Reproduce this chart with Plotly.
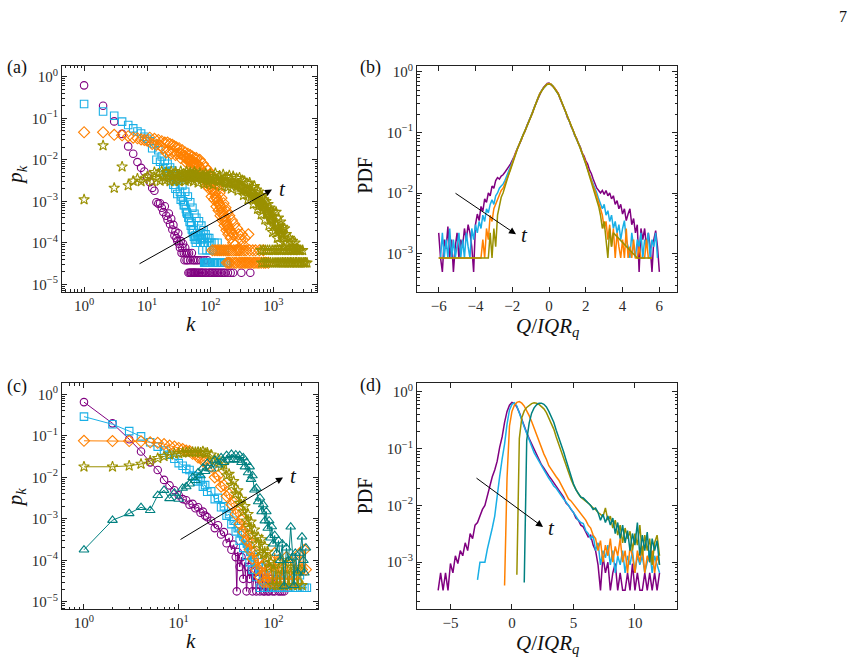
import plotly.graph_objects as go

W, H = 856, 663
FONT = "Liberation Serif"

C_PUR = "#800080"
C_BLU = "#19afe6"
C_ORA = "#ff8000"
C_OLI = "#9a9000"
C_TEA = "#008080"

# ======================= panel (a): p_k vs k (markers) =======================
ka_pur = [1,2,3,4,5,6,7,8,9,10,11,12,13,14,15,16,17,18,19,20,
          21,22,23,24,25,26,27,28,29,30,31,32,33,34,35,36,37,38,39,40,
          41,42,43,44,45,46,
          47,48,49,50,51,52,53,54,55,56,57,58,60,61,63,64,66,68,70,72,74,77,80,83,86,90,94,98,
          103,108,114,120,127,135,143,152,162,172,190,210,230,310,430]
pa_pur = [6.2e-1,2.0e-1,8.4e-2,4.2e-2,2.1e-2,1.4e-2,8.8e-3,6.4e-3,5.2e-3,3.8e-3,
          2.9e-3,2.1e-3,1.8e-3,9.5e-4,8.8e-4,9.0e-4,7.0e-4,5.5e-4,7.6e-4,4.5e-4,
          3.6e-4,5.1e-4,2.8e-4,3.8e-4,2.1e-4,2.7e-4,1.5e-4,1.9e-4,1.3e-4,1.1e-4,
          1.7e-4,9.5e-5,7.6e-5,1.1e-4,5.7e-5,7.6e-5,9.5e-5,5.7e-5,3.8e-5,7.6e-5,
          5.7e-5,3.8e-5,5.7e-5,3.8e-5,1.9e-5,5.7e-5,
          1.9e-5,3.8e-5,1.9e-5,1.9e-5,5.7e-5,1.9e-5,3.8e-5,1.9e-5,1.9e-5,3.8e-5,
          1.9e-5,1.9e-5,3.8e-5,1.9e-5,1.9e-5,3.8e-5,1.9e-5,1.9e-5,3.8e-5,1.9e-5,
          1.9e-5,1.9e-5,3.8e-5,1.9e-5,1.9e-5,3.8e-5,1.9e-5,1.9e-5,
          1.9e-5,1.9e-5,1.9e-5,1.9e-5,1.9e-5,1.9e-5,1.9e-5,1.9e-5,1.9e-5,1.9e-5,
          1.9e-5,1.9e-5,1.9e-5,1.9e-5,1.9e-5]

ka_blu = [1,2,3,4,5,6,7,8,9,10,11,12,13,14,15,16,17,18,19,20,
          21,22,23,24,25,26,27,28,29,30,
          32,34,36,38,40,42,44,46,48,50,52,54,56,58,60,
          63,66,69,72,75,78,81,84,87,90,93,96,99,
          104,110,116,122,130,140,150,160,170,
          80,83,86,89,92,95,98,101,107,113,119,126,133,145,155,165,175,183,190,
          33,35,37,39,41,43,45,47,49,51,53,55,57,59,
          62,65,68,71,74,77,79,82]
pa_blu = [2.2e-1,1.45e-1,1.15e-1,8.3e-2,6.9e-2,5.7e-2,4.8e-2,4.3e-2,3.6e-2,3.2e-2,
          2.8e-2,1.9e-2,2.4e-2,1.0e-2,1.7e-2,9.0e-3,1.2e-2,6.5e-3,9.5e-3,5.0e-3,
          8.0e-3,4.0e-3,6.5e-3,3.2e-3,5.5e-3,2.5e-3,4.4e-3,2.0e-3,3.4e-3,1.5e-3,
          3.2e-3,1.1e-3,2.4e-3,8.0e-4,1.7e-3,5.5e-4,1.3e-3,4.0e-4,9.5e-4,3.0e-4,
          7.0e-4,2.0e-4,5.0e-4,1.5e-4,4.0e-4,
          1.2e-4,3.3e-4,1.0e-4,2.6e-4,6.6e-5,2.0e-4,1.0e-4,1.6e-4,6.6e-5,1.3e-4,
          1.0e-4,1.3e-4,6.6e-5,
          1.0e-4,6.6e-5,1.0e-4,6.6e-5,1.0e-4,6.6e-5,6.6e-5,6.6e-5,6.6e-5,
          3.3e-5,3.3e-5,3.3e-5,3.3e-5,3.3e-5,3.3e-5,3.3e-5,3.3e-5,3.3e-5,3.3e-5,
          3.3e-5,3.3e-5,3.3e-5,3.3e-5,3.3e-5,3.3e-5,3.3e-5,3.3e-5,3.3e-5,
          1.7e-3,1.3e-3,1.0e-3,8.0e-4,6.5e-4,5.0e-4,4.0e-4,3.2e-4,2.6e-4,2.1e-4,
          1.7e-4,1.4e-4,1.2e-4,1.0e-4,
          1.7e-4,1.5e-4,1.3e-4,1.5e-4,1.2e-4,1.0e-4,1.3e-4,1.0e-4]

ka_ora = [1,2,3,4,5,6,7,8,9,10,11,12,13,14,15,16,17,18,19,20,
          21,22,23,24,25,26,27,28,29,30,
          32,34,36,38,40,42,44,46,48,50,52,54,56,58,60,
          64,68,72,76,80,84,88,92,96,100,
          105,110,115,120,125,130,135,140,145,150,
          156,162,168,174,180,186,193,200,
          210,220,230,240,250,265,280,300,315,330,350,400,
          108,118,128,138,148,160,172,185,198,215,235,255,275,290,310,340,370,420,470,520,600,690,
          183,195,205,225,245,260,285,305,325,345,365,385,410,440,480,510,550,590,640,700,750,830,
          33,35,37,39,41,43,45,47,49,51,53,55,57,59,
          62,66,70,74,78,82,86,90,94,98,
          102,107,112,117,122,127,132,137,142,147,
          153,159,165,171,177,184,190,197,204,217,227]
pa_ora = [4.6e-2,4.6e-2,4.0e-2,3.9e-2,3.7e-2,3.4e-2,3.3e-2,3.1e-2,3.0e-2,2.9e-2,
          3.4e-2,2.4e-2,3.2e-2,2.3e-2,3.0e-2,2.2e-2,2.8e-2,1.9e-2,2.6e-2,1.5e-2,
          2.6e-2,1.7e-2,2.4e-2,1.4e-2,2.3e-2,1.6e-2,2.1e-2,1.3e-2,2.0e-2,1.4e-2,
          1.9e-2,1.1e-2,1.7e-2,1.2e-2,1.5e-2,8.5e-3,1.4e-2,9.0e-3,1.3e-2,7.0e-3,
          1.2e-2,8.0e-3,1.1e-2,6.0e-3,1.1e-2,
          5.5e-3,1.0e-2,4.2e-3,8.0e-3,3.4e-3,6.5e-3,2.4e-3,5.5e-3,2.0e-3,4.5e-3,
          1.3e-3,3.5e-3,1.1e-3,2.6e-3,7.5e-4,2.0e-3,6.0e-4,1.6e-3,4.5e-4,1.2e-3,
          3.5e-4,9.0e-4,2.6e-4,7.0e-4,2.0e-4,5.5e-4,1.6e-4,4.5e-4,
          1.3e-4,3.5e-4,1.0e-4,2.8e-4,9.0e-5,2.2e-4,1.6e-4,1.2e-4,1.6e-4,9.0e-5,1.3e-4,1.6e-4,
          6.6e-5,6.6e-5,6.6e-5,6.6e-5,6.6e-5,6.6e-5,6.6e-5,6.6e-5,6.6e-5,6.6e-5,6.6e-5,
          6.6e-5,6.6e-5,6.6e-5,6.6e-5,6.6e-5,6.6e-5,6.6e-5,6.6e-5,6.6e-5,6.6e-5,6.6e-5,
          3.3e-5,3.3e-5,3.3e-5,3.3e-5,3.3e-5,3.3e-5,3.3e-5,3.3e-5,3.3e-5,3.3e-5,3.3e-5,
          3.3e-5,3.3e-5,3.3e-5,3.3e-5,3.3e-5,3.3e-5,3.3e-5,3.3e-5,3.3e-5,3.3e-5,3.3e-5,
          1.4e-2,1.4e-2,1.3e-2,1.2e-2,1.1e-2,1.1e-2,1.0e-2,1.05e-2,9.5e-3,9.0e-3,
          9.5e-3,8.5e-3,8.0e-3,8.0e-3,
          8.0e-3,7.0e-3,6.0e-3,5.5e-3,4.8e-3,4.2e-3,3.8e-3,3.4e-3,3.0e-3,2.6e-3,
          2.4e-3,2.0e-3,1.8e-3,1.6e-3,1.3e-3,1.15e-3,1.0e-3,9.0e-4,8.0e-4,7.0e-4,
          6.0e-4,5.0e-4,4.4e-4,3.8e-4,3.2e-4,2.8e-4,2.5e-4,2.2e-4,2.0e-4,1.8e-4,1.6e-4]

ka_oli = [1,2,3,4,5,6,7,8,9,10,11,12,13,14,15,16,17,18,19,20,
          21,22,23,24,25,26,27,28,29,30,
          32,34,36,38,40,42,44,46,48,50,52,54,56,58,60,
          64,68,72,76,80,84,88,92,96,100,
          110,120,130,140,150,160,170,180,190,200,
          215,230,245,260,275,290,305,320,335,350,365,380,395,
          420,440,460,480,500,520,540,560,580,600,620,640,660,680,700,
          730,760,790,820,850,880,910,940,970,1000,
          1050,1100,1150,1200,1250,1300,1350,1400,1450,1500,
          1600,1700,1800,1900,2000,2100,2200,2350,2450,2600,
          1380,
          630,690,745,805,870,955,1025,1085,1160,1240,1320,1420,1550,1650,1750,1850,1950,2050,
          2150,2300,2500,2700,2900,
          650,710,770,830,900,980,1060,1140,1220,1310,1390,1470,1560,1660,1760,1860,1960,2080,
          2220,2320,2470,2620,2750,2950,3050,3200,3400,
          33,35,37,39,41,43,45,47,49,51,53,55,57,59,
          66,70,74,78,82,86,90,94,98,
          115,125,135,145,155,165,175,185,195,
          222,237,252,267,282,297,312,327,342,357,372,387,
          431,451,471,491,511,531,551,571,591,611,631,651,671,691,
          747,777,807,837,867,897,927,957,987,
          1075,1125,1175,1225,1275,1325,1375,1425,1475]
pa_oli = [1.1e-3,2.2e-2,2.1e-3,6.8e-3,2.4e-3,3.1e-3,3.5e-3,3.0e-3,3.4e-3,3.9e-3,
          4.2e-3,3.0e-3,5.0e-3,3.6e-3,4.6e-3,3.1e-3,5.3e-3,3.9e-3,3.2e-3,5.0e-3,
          3.5e-3,4.4e-3,3.0e-3,5.2e-3,3.8e-3,4.5e-3,3.1e-3,5.1e-3,3.4e-3,4.3e-3,
          3.0e-3,5.3e-3,3.6e-3,4.6e-3,3.1e-3,5.2e-3,3.9e-3,3.2e-3,5.0e-3,3.5e-3,
          4.4e-3,3.0e-3,5.1e-3,3.8e-3,4.4e-3,
          2.8e-3,4.8e-3,3.3e-3,4.2e-3,2.6e-3,4.6e-3,3.0e-3,4.0e-3,2.7e-3,4.5e-3,
          2.5e-3,4.7e-3,3.2e-3,4.1e-3,2.3e-3,4.4e-3,2.8e-3,3.8e-3,2.2e-3,4.2e-3,
          2.0e-3,4.0e-3,2.6e-3,3.6e-3,1.8e-3,3.7e-3,2.2e-3,3.2e-3,1.4e-3,3.0e-3,
          1.8e-3,2.7e-3,1.1e-3,
          2.8e-3,1.3e-3,2.2e-3,8.5e-4,2.3e-3,1.1e-3,1.9e-3,6.5e-4,1.7e-3,8.0e-4,
          1.4e-3,4.8e-4,1.3e-3,6.0e-4,1.1e-3,
          3.6e-4,1.0e-3,5.0e-4,8.5e-4,2.6e-4,7.0e-4,3.6e-4,5.8e-4,1.8e-4,5.5e-4,
          2.0e-4,5.5e-4,1.3e-4,4.0e-4,1.0e-4,3.2e-4,1.6e-4,2.4e-4,8.0e-5,2.2e-4,
          1.6e-4,8.5e-5,1.3e-4,1.0e-4,1.1e-4,6.6e-5,1.0e-4,7.5e-5,7.0e-5,6.6e-5,
          2.1e-4,
          6.6e-5,6.6e-5,6.6e-5,6.6e-5,6.6e-5,6.6e-5,6.6e-5,6.6e-5,6.6e-5,6.6e-5,
          6.6e-5,6.6e-5,6.6e-5,6.6e-5,6.6e-5,6.6e-5,6.6e-5,6.6e-5,6.6e-5,6.6e-5,
          6.6e-5,6.6e-5,6.6e-5,
          3.3e-5,3.3e-5,3.3e-5,3.3e-5,3.3e-5,3.3e-5,3.3e-5,3.3e-5,3.3e-5,3.3e-5,
          3.3e-5,3.3e-5,3.3e-5,3.3e-5,3.3e-5,3.3e-5,3.3e-5,3.3e-5,3.3e-5,3.3e-5,
          3.3e-5,3.3e-5,3.3e-5,3.3e-5,3.3e-5,3.3e-5,3.3e-5,
          4.0e-3,4.1e-3,3.9e-3,4.2e-3,4.0e-3,4.1e-3,3.9e-3,4.0e-3,4.2e-3,3.9e-3,
          4.0e-3,3.9e-3,4.1e-3,4.0e-3,
          3.8e-3,3.7e-3,3.8e-3,3.6e-3,3.7e-3,3.5e-3,3.6e-3,3.5e-3,3.4e-3,
          3.4e-3,3.3e-3,3.2e-3,3.2e-3,3.1e-3,3.0e-3,2.9e-3,2.9e-3,2.8e-3,
          2.7e-3,2.7e-3,2.6e-3,2.5e-3,2.4e-3,2.3e-3,2.2e-3,2.1e-3,2.0e-3,1.9e-3,1.8e-3,1.7e-3,
          1.7e-3,1.6e-3,1.5e-3,1.4e-3,1.3e-3,1.2e-3,1.15e-3,1.1e-3,1.0e-3,9.5e-4,
          9.0e-4,8.5e-4,8.0e-4,7.5e-4,
          6.5e-4,6.0e-4,5.5e-4,5.0e-4,4.5e-4,4.2e-4,3.8e-4,3.5e-4,3.2e-4,
          2.9e-4,2.6e-4,2.3e-4,2.1e-4,1.9e-4,1.7e-4,1.6e-4,1.4e-4,1.3e-4]

# ======================= panel (b): PDF of Q/IQR (lines) =======================
xb_start, xb_step = -6.0, 0.1
pb_pur = [2.2e-3,8.5e-4,5.0e-4,1.7e-3,1.2e-3,2.8e-3,8.5e-4,1.7e-3,5.0e-4,1.3e-3,
          2.2e-3,8.5e-4,1.7e-3,1.3e-3,2.6e-3,1.7e-3,3.0e-3,2.2e-3,1.3e-3,5.0e-4,
          3.0e-3,4.5e-3,3.5e-3,6.0e-3,5.0e-3,8.0e-3,7.0e-3,1.0e-2,9.0e-3,1.3e-2,
          1.2e-2,1.6e-2,1.8e-2,1.7e-2,1.9e-2,2.0e-2,2.2e-2,2.5e-2,2.7e-2,3.0e-2,
          3.4e-2,4.0e-2,4.8e-2,5.5e-2,6.7e-2,7.6e-2,9.3e-2,1.05e-1,1.3e-1,1.5e-1,
          1.8e-1,2.1e-1,2.6e-1,3.1e-1,3.7e-1,4.4e-1,4.9e-1,5.5e-1,5.9e-1,6.4e-1,
          6.5e-1,
          6.2e-1,5.8e-1,5.4e-1,4.8e-1,4.4e-1,3.6e-1,3.1e-1,2.5e-1,2.2e-1,1.75e-1,
          1.55e-1,1.25e-1,1.1e-1,8.8e-2,8.0e-2,6.5e-2,5.8e-2,4.6e-2,4.1e-2,3.4e-2,
          3.0e-2,2.4e-2,2.1e-2,1.7e-2,1.4e-2,1.2e-2,1.1e-2,1.0e-2,1.1e-2,9.5e-3,
          1.1e-2,9.0e-3,1.0e-2,8.0e-3,9.0e-3,6.5e-3,7.5e-3,5.5e-3,6.5e-3,4.5e-3,
          5.5e-3,3.5e-3,4.5e-3,5.5e-3,3.0e-3,3.8e-3,2.2e-3,3.0e-3,5.0e-4,2.6e-3,
          1.7e-3,2.6e-3,1.3e-3,2.2e-3,1.3e-3,5.0e-4,1.7e-3,2.4e-3,1.3e-3,5.0e-4]
pb_blu = [None,8.5e-4,2.2e-3,8.5e-4,1.7e-3,8.5e-4,2.6e-3,8.5e-4,1.7e-3,8.5e-4,
          1.3e-3,2.2e-3,8.5e-4,1.7e-3,8.5e-4,2.2e-3,1.3e-3,8.5e-4,2.6e-3,1.7e-3,
          3.0e-3,2.2e-3,3.4e-3,2.6e-3,4.3e-3,3.4e-3,5.5e-3,4.7e-3,6.5e-3,7.7e-3,
          6.5e-3,9.0e-3,1.0e-2,1.2e-2,1.3e-2,1.4e-2,1.6e-2,1.9e-2,2.2e-2,2.6e-2,
          3.1e-2,3.9e-2,4.6e-2,5.7e-2,6.5e-2,7.9e-2,9.0e-2,1.08e-1,1.27e-1,1.52e-1,
          1.76e-1,2.15e-1,2.55e-1,3.1e-1,3.7e-1,4.4e-1,4.9e-1,5.4e-1,6.0e-1,6.3e-1,
          6.4e-1,
          6.3e-1,5.9e-1,5.3e-1,4.9e-1,4.3e-1,3.7e-1,3.1e-1,2.6e-1,2.1e-1,1.8e-1,
          1.5e-1,1.3e-1,1.06e-1,9.2e-2,7.6e-2,6.7e-2,5.5e-2,4.8e-2,3.8e-2,3.2e-2,
          2.5e-2,2.0e-2,1.7e-2,1.4e-2,1.2e-2,1.0e-2,8.0e-3,6.5e-3,5.5e-3,6.5e-3,
          4.3e-3,5.1e-3,3.4e-3,4.3e-3,2.6e-3,3.4e-3,2.2e-3,3.0e-3,1.7e-3,2.6e-3,
          3.5e-3,1.7e-3,1.3e-3,8.5e-4,2.2e-3,1.3e-3,8.5e-4,1.7e-3,1.3e-3,2.2e-3,
          8.5e-4,1.7e-3,1.3e-3,2.2e-3,8.5e-4,1.7e-3,1.3e-3,2.2e-3,8.5e-4,None]
pb_ora = [8.5e-4,8.5e-4,8.5e-4,8.5e-4,8.5e-4,8.5e-4,8.5e-4,8.5e-4,8.5e-4,8.5e-4,
          8.5e-4,8.5e-4,8.5e-4,8.5e-4,8.5e-4,8.5e-4,8.5e-4,8.5e-4,8.5e-4,8.5e-4,
          8.5e-4,8.5e-4,8.5e-4,8.5e-4,1.7e-3,8.5e-4,2.6e-3,1.7e-3,4.3e-3,3.4e-3,
          5.5e-3,6.5e-3,8.0e-3,9.5e-3,1.1e-2,1.2e-2,1.4e-2,1.7e-2,2.0e-2,2.5e-2,
          3.2e-2,3.8e-2,4.7e-2,5.6e-2,6.6e-2,7.8e-2,9.1e-2,1.07e-1,1.29e-1,1.5e-1,
          1.78e-1,2.1e-1,2.6e-1,3.1e-1,3.7e-1,4.4e-1,4.9e-1,5.4e-1,5.9e-1,6.3e-1,
          6.4e-1,
          6.3e-1,5.9e-1,5.4e-1,4.9e-1,4.4e-1,3.7e-1,3.1e-1,2.6e-1,2.1e-1,1.78e-1,
          1.5e-1,1.29e-1,1.07e-1,9.1e-2,7.8e-2,6.6e-2,5.6e-2,4.7e-2,3.9e-2,3.2e-2,
          2.5e-2,2.0e-2,1.5e-2,1.3e-2,1.1e-2,9.0e-3,7.0e-3,5.5e-3,4.3e-3,2.6e-3,
          3.4e-3,1.7e-3,3.0e-3,1.3e-3,2.6e-3,8.5e-4,2.2e-3,1.3e-3,8.5e-4,1.7e-3,
          8.5e-4,2.6e-3,8.5e-4,1.3e-3,8.5e-4,1.7e-3,8.5e-4,8.5e-4,1.3e-3,8.5e-4,
          8.5e-4,8.5e-4,1.7e-3,8.5e-4,8.5e-4,8.5e-4,None,None,None,None]
pb_oli = [8.5e-4,8.5e-4,8.5e-4,8.5e-4,8.5e-4,8.5e-4,8.5e-4,8.5e-4,8.5e-4,8.5e-4,
          8.5e-4,8.5e-4,8.5e-4,8.5e-4,8.5e-4,8.5e-4,8.5e-4,8.5e-4,8.5e-4,8.5e-4,
          8.5e-4,8.5e-4,8.5e-4,8.5e-4,8.5e-4,8.5e-4,8.5e-4,8.5e-4,2.2e-3,8.5e-4,
          2.6e-3,1.3e-3,4.3e-3,6.5e-3,8.5e-3,1.0e-2,1.3e-2,1.6e-2,2.0e-2,2.4e-2,
          3.0e-2,3.8e-2,4.6e-2,5.5e-2,6.6e-2,7.7e-2,9.0e-2,1.07e-1,1.28e-1,1.5e-1,
          1.77e-1,2.1e-1,2.6e-1,3.1e-1,3.7e-1,4.3e-1,4.9e-1,5.4e-1,5.8e-1,6.2e-1,
          6.3e-1,
          6.2e-1,5.8e-1,5.3e-1,4.8e-1,4.3e-1,3.7e-1,3.1e-1,2.6e-1,2.1e-1,1.77e-1,
          1.5e-1,1.28e-1,1.06e-1,9.0e-2,7.7e-2,6.5e-2,5.5e-2,4.6e-2,3.8e-2,3.0e-2,
          2.4e-2,1.9e-2,1.5e-2,1.2e-2,1.0e-2,8.0e-3,6.0e-3,4.3e-3,2.6e-3,3.4e-3,
          1.7e-3,8.5e-4,2.6e-3,1.3e-3,2.2e-3,None,None,None,None,None,
          None,None,None,None,None,None,None,8.5e-4,8.5e-4,8.5e-4,
          8.5e-4,8.5e-4,8.5e-4,8.5e-4,8.5e-4,8.5e-4,None,None,None,None]

# ======================= panel (c): p_k vs k (markers + lines) =======================
kc_pur = [1,2,3,4,5,6,7,8,9,10,11,12,13,14,15,16,17,18,19,20,
          22,24,26,28,30,32,34,36,38,40,41,42,44,46,48,50,52,54,56,58,60,
          63,66,69,72,75,78,81,84,87,90,94,98,103,108,113,118,124,130]
pc_pur = [6.5e-1,2.0e-1,8.3e-2,4.2e-2,2.3e-2,1.5e-2,8.7e-3,6.4e-3,4.9e-3,3.7e-3,
          3.0e-3,2.8e-3,2.2e-3,2.3e-3,1.8e-3,1.9e-3,1.4e-3,1.5e-3,1.2e-3,1.1e-3,
          9.0e-4,6.0e-4,7.0e-4,4.2e-4,4.8e-4,2.6e-4,3.5e-4,1.8e-4,2.4e-4,1.2e-4,1.8e-5,
          1.6e-4,7.0e-5,1.2e-4,3.6e-5,9.0e-5,1.8e-5,7.0e-5,3.6e-5,5.4e-5,1.8e-5,
          5.4e-5,1.8e-5,3.6e-5,1.8e-5,5.4e-5,1.8e-5,1.8e-5,3.6e-5,1.8e-5,1.8e-5,
          3.6e-5,1.8e-5,1.8e-5,3.6e-5,1.8e-5,1.8e-5,1.8e-5,1.8e-5]

kc_blu = [1,2,3,4,5,6,7,8,9,10,11,12,13,14,15,16,17,18,19,20,
          22,24,26,28,30,32,34,36,38,40,42,44,46,48,50,52,54,56,58,60,
          63,66,69,72,75,78,81,84,87,90,
          94,98,103,108,113,118,124,130,137,144,152,160,170,180,190,200,212,225]
pc_blu = [2.9e-1,1.9e-1,1.3e-1,9.7e-2,7.0e-2,5.5e-2,4.4e-2,3.5e-2,2.8e-2,2.2e-2,
          1.9e-2,1.6e-2,1.5e-2,1.1e-2,1.05e-2,8.0e-3,8.5e-3,6.0e-3,6.5e-3,4.5e-3,
          4.6e-3,3.0e-3,3.2e-3,1.9e-3,2.0e-3,1.2e-3,1.3e-3,7.5e-4,9.0e-4,5.0e-4,
          6.0e-4,3.0e-4,4.5e-4,2.0e-4,3.2e-4,1.3e-4,2.3e-4,9.0e-5,1.6e-4,6.0e-5,
          1.2e-4,4.0e-5,9.0e-5,2.2e-5,7.0e-5,4.4e-5,2.2e-5,6.6e-5,2.2e-5,4.4e-5,
          2.2e-5,4.4e-5,2.2e-5,2.2e-5,4.4e-5,2.2e-5,2.2e-5,4.4e-5,2.2e-5,2.2e-5,
          4.4e-5,2.2e-5,2.2e-5,2.2e-5,4.4e-5,2.2e-5,2.2e-5,2.2e-5]

kc_ora = [1,2,3,4,5,6,7,8,9,10,11,12,13,14,15,16,17,18,19,20,
          22,24,26,28,30,32,34,36,38,40,42,44,46,48,50,52,54,56,58,60,
          63,66,69,72,75,78,81,84,87,90,
          94,98,103,108,113,118,124,130,137,144,152,160,170,180,190,200,212,220]
pc_ora = [7.6e-2,7.5e-2,7.5e-2,7.4e-2,7.0e-2,6.8e-2,6.3e-2,5.8e-2,5.5e-2,5.1e-2,
          4.8e-2,4.4e-2,4.3e-2,3.7e-2,3.6e-2,3.0e-2,3.0e-2,2.5e-2,2.5e-2,2.0e-2,
          1.8e-2,1.0e-2,1.1e-2,6.0e-3,6.5e-3,3.5e-3,4.0e-3,2.2e-3,2.5e-3,1.3e-3,
          1.5e-3,7.5e-4,9.5e-4,4.8e-4,6.0e-4,3.0e-4,4.0e-4,1.8e-4,2.6e-4,1.1e-4,
          1.6e-4,6.0e-5,1.1e-4,4.0e-5,7.0e-5,3.0e-5,8.0e-5,3.0e-5,6.0e-5,3.0e-5,
          8.0e-5,3.0e-5,1.5e-4,3.0e-5,9.0e-5,3.0e-5,6.0e-5,3.0e-5,1.2e-4,3.0e-5,
          6.0e-5,3.0e-5,9.0e-5,3.0e-5,1.5e-4,6.0e-5,1.8e-4,6.0e-5]

kc_oli = [1,2,3,4,5,6,7,8,9,10,11,12,13,14,15,16,17,18,19,20,
          22,24,26,28,30,32,34,36,38,40,42,44,46,48,50,52,54,56,58,60,
          63,66,69,72,75,78,81,84,87,90,
          94,98,103,108,113,118,124,130,137,144,152,160,170,180,190,200]
pc_oli = [1.8e-2,1.8e-2,1.9e-2,2.1e-2,2.5e-2,2.9e-2,3.2e-2,3.5e-2,3.7e-2,3.8e-2,
          3.9e-2,4.0e-2,4.0e-2,4.1e-2,4.0e-2,4.1e-2,3.9e-2,4.2e-2,3.8e-2,3.9e-2,
          3.5e-2,2.6e-2,2.8e-2,1.8e-2,2.0e-2,1.1e-2,1.2e-2,6.5e-3,8.0e-3,4.0e-3,
          4.8e-3,2.4e-3,3.0e-3,1.5e-3,2.0e-3,9.0e-4,1.3e-3,6.0e-4,8.5e-4,4.0e-4,
          5.5e-4,2.5e-4,3.6e-4,1.6e-4,3.2e-4,1.4e-4,2.2e-4,1.1e-4,1.6e-4,7.0e-5,
          9.0e-5,2.5e-5,8.0e-5,2.5e-5,6.0e-5,2.5e-5,1.0e-4,2.5e-5,6.0e-5,2.5e-5,
          9.0e-5,2.5e-5,6.0e-5,2.5e-5,6.0e-5,2.5e-5]

kc_tea = [1,2,3,4,5,6,7,8,9,10,11,12,13,14,15,16,17,18,19,20,
          22,24,26,28,30,32,34,36,38,40,42,44,46,48,50,52,54,56,58,60,
          63,66,69,72,75,78,81,84,87,90,93,96,99,
          103,108,113,118,124,130,137,144,152,160,165,170,180,190,200,207,212,220]
pc_tea = [1.8e-4,9.3e-4,1.35e-3,1.9e-3,1.6e-3,3.7e-3,4.9e-3,3.1e-3,4.2e-3,3.0e-3,
          5.5e-3,6.0e-3,7.0e-3,1.0e-2,8.5e-3,1.3e-2,1.1e-2,1.7e-2,1.4e-2,2.2e-2,
          1.6e-2,2.6e-2,2.0e-2,3.0e-2,2.3e-2,3.4e-2,2.6e-2,3.6e-2,2.7e-2,3.5e-2,
          2.6e-2,3.4e-2,2.3e-2,3.0e-2,1.8e-2,2.3e-2,1.3e-2,1.8e-2,9.0e-3,1.1e-2,
          5.0e-3,5.5e-3,2.6e-3,3.2e-3,1.5e-3,2.2e-3,9.0e-4,1.5e-3,6.0e-4,9.0e-4,
          3.5e-4,6.5e-4,2.5e-4,
          4.0e-4,1.5e-4,3.0e-4,1.0e-4,2.5e-4,2.4e-5,2.0e-4,1.0e-4,6.4e-4,1.2e-4,
          2.5e-5,1.5e-4,5.0e-5,1.5e-4,3.7e-4,1.0e-4,5.0e-5,2.0e-4]

# ======================= panel (d): PDF of Q/IQR (lines) =======================
xd_step = 0.2
xd_pur_start = -6.0
pd_pur = [3.2e-4,6.5e-4,3.2e-4,6.5e-4,3.2e-4,9.5e-4,6.5e-4,1.3e-3,9.5e-4,1.6e-3,
          1.3e-3,2.2e-3,1.6e-3,3.2e-3,2.6e-3,4.5e-3,5.0e-3,6.5e-3,8.5e-3,1.0e-2,
          1.5e-2,2.2e-2,3.2e-2,4.2e-2,6.0e-2,1.05e-1,1.6e-1,2.9e-1,4.5e-1,5.8e-1,
          6.5e-1,6.2e-1,5.4e-1,4.3e-1,3.2e-1,2.5e-1,1.9e-1,1.5e-1,1.2e-1,9.5e-2,
          8.0e-2,6.5e-2,5.2e-2,4.5e-2,3.8e-2,3.3e-2,2.9e-2,2.5e-2,2.2e-2,1.8e-2,
          1.6e-2,1.4e-2,1.1e-2,1.0e-2,8.5e-3,7.5e-3,6.0e-3,5.5e-3,4.5e-3,4.2e-3,
          3.4e-3,2.8e-3,3.0e-3,2.0e-3,1.6e-3,9.0e-4,3.2e-4,1.3e-3,6.5e-4,1.0e-3,
          3.2e-4,6.5e-4,9.5e-4,3.2e-4,6.5e-4,3.2e-4,3.2e-4,6.5e-4,3.2e-4,9.5e-4,
          3.2e-4,6.5e-4,3.2e-4,3.2e-4,6.5e-4,3.2e-4,6.5e-4,3.2e-4,6.5e-4,3.2e-4,
          6.5e-4]
xd_blu_start = -2.8
pd_blu = [4.9e-4,1.0e-3,1.0e-3,1.0e-3,1.7e-3,2.5e-3,4.0e-3,6.5e-3,1.3e-2,3.2e-2,
          6.5e-2,1.2e-1,2.7e-1,4.8e-1,6.0e-1,6.4e-1,5.6e-1,4.4e-1,3.2e-1,2.4e-1,
          1.8e-1,1.4e-1,1.1e-1,8.5e-2,7.0e-2,5.8e-2,5.0e-2,4.2e-2,3.5e-2,3.0e-2,
          2.6e-2,2.2e-2,2.0e-2,1.7e-2,1.5e-2,1.3e-2,1.15e-2,1.0e-2,9.0e-3,7.5e-3,
          6.5e-3,5.5e-3,5.0e-3,4.8e-3,3.6e-3,3.2e-3,2.6e-3,3.0e-3,1.6e-3,2.2e-3,
          9.0e-4,1.6e-3,1.2e-3,2.0e-3,9.0e-4,1.6e-3,6.5e-4,1.3e-3,9.0e-4,1.6e-3,
          6.5e-4,1.3e-3,9.0e-4,1.6e-3,6.5e-4,1.3e-3,9.0e-4,1.3e-3,6.5e-4,1.0e-3,
          1.6e-3,6.5e-4,1.3e-3,9.0e-4,6.5e-4]
xd_ora_start = -0.6
pd_ora = [3.9e-4,3.0e-2,2.5e-1,4.5e-1,5.8e-1,6.5e-1,6.7e-1,6.3e-1,5.6e-1,4.7e-1,
          3.8e-1,3.0e-1,2.3e-1,1.7e-1,1.3e-1,1.0e-1,8.0e-2,6.5e-2,5.0e-2,4.3e-2,
          3.6e-2,3.2e-2,2.8e-2,2.3e-2,2.0e-2,1.6e-2,1.3e-2,1.2e-2,1.05e-2,9.5e-3,
          8.0e-3,7.0e-3,6.3e-3,5.5e-3,4.5e-3,4.0e-3,3.0e-3,2.6e-3,1.6e-3,2.4e-3,
          1.0e-3,2.0e-3,1.3e-3,2.6e-3,1.0e-3,1.9e-3,1.3e-3,2.6e-3,1.0e-3,1.6e-3,
          6.5e-4,1.9e-3,1.3e-3,6.5e-4,1.6e-3,1.0e-3,1.9e-3,6.5e-4,1.3e-3,1.0e-3,
          1.6e-3,6.5e-4,1.3e-3,9.0e-4]
xd_oli_start = 0.4
pd_oli = [6.0e-4,1.5e-1,3.5e-1,4.6e-1,5.3e-1,5.8e-1,6.2e-1,6.4e-1,6.3e-1,6.0e-1,
          5.5e-1,5.0e-1,4.3e-1,3.4e-1,2.8e-1,2.2e-1,1.6e-1,1.2e-1,9.0e-2,6.8e-2,
          5.0e-2,3.7e-2,2.9e-2,2.3e-2,1.9e-2,1.6e-2,1.4e-2,1.3e-2,1.2e-2,1.1e-2,
          1.0e-2,9.0e-3,8.5e-3,7.5e-3,7.0e-3,6.3e-3,9.0e-3,5.5e-3,6.5e-3,4.0e-3,
          5.5e-3,3.0e-3,4.5e-3,2.2e-3,4.0e-3,2.6e-3,3.5e-3,1.6e-3,3.2e-3,2.0e-3,
          4.5e-3,1.3e-3,3.0e-3,1.6e-3,2.6e-3,9.0e-4,2.2e-3,3.0e-3,1.3e-3]
xd_tea_start = 1.0
pd_tea = [4.4e-4,1.4e-1,2.8e-1,4.2e-1,5.2e-1,5.9e-1,6.3e-1,6.3e-1,6.0e-1,5.4e-1,
          4.5e-1,3.7e-1,2.9e-1,2.1e-1,1.6e-1,1.2e-1,8.8e-2,6.3e-2,4.4e-2,3.2e-2,
          2.4e-2,1.9e-2,1.6e-2,1.4e-2,1.35e-2,1.2e-2,1.1e-2,1.0e-2,8.5e-3,9.0e-3,
          7.5e-3,5.5e-3,7.0e-3,5.0e-3,6.5e-3,4.5e-3,6.0e-3,3.2e-3,5.0e-3,2.6e-3,
          4.5e-3,2.2e-3,3.6e-3,1.6e-3,3.2e-3,2.0e-3,5.0e-3,1.3e-3,3.0e-3,1.6e-3,
          3.4e-3,1.0e-3,2.6e-3,1.6e-3,2.4e-3,9.0e-4]

for a, b in [(ka_pur, pa_pur), (ka_blu, pa_blu), (ka_ora, pa_ora), (ka_oli, pa_oli),
             (kc_pur, pc_pur), (kc_blu, pc_blu), (kc_ora, pc_ora), (kc_oli, pc_oli),
             (kc_tea, pc_tea)]:
    assert len(a) == len(b), (len(a), len(b))
for s in [pb_pur, pb_blu, pb_ora, pb_oli]:
    assert len(s) == 121, len(s)
assert len(pd_pur) == 91 and len(pd_blu) == 75 and len(pd_ora) == 64
assert len(pd_oli) == 59 and len(pd_tea) == 56


def grid(x0, step, n):
    return [round(x0 + i * step, 3) for i in range(n)]


fig = go.Figure()

# (a)
for k, p, c, sym, sz in [(ka_pur, pa_pur, C_PUR, "circle-open", 7.5),
                         (ka_blu, pa_blu, C_BLU, "square-open", 7.5),
                         (ka_ora, pa_ora, C_ORA, "diamond-open", 8.5),
                         (ka_oli, pa_oli, C_OLI, "star-open", 8)]:
    fig.add_trace(go.Scatter(x=k, y=p, mode="markers", xaxis="x", yaxis="y",
                             marker=dict(symbol=sym, size=sz, color=c, line=dict(width=1.1)),
                             showlegend=False))
# (b)
for p, c in [(pb_pur, C_PUR), (pb_blu, C_BLU), (pb_ora, C_ORA), (pb_oli, C_OLI)]:
    fig.add_trace(go.Scatter(x=grid(xb_start, xb_step, len(p)), y=p, mode="lines",
                             xaxis="x2", yaxis="y2", connectgaps=True,
                             line=dict(color=c, width=1.5), showlegend=False))
# (c)
for k, p, c, sym, sz in [(kc_pur, pc_pur, C_PUR, "circle-open", 7.5),
                         (kc_blu, pc_blu, C_BLU, "square-open", 7.5),
                         (kc_ora, pc_ora, C_ORA, "diamond-open", 8.5),
                         (kc_oli, pc_oli, C_OLI, "star-open", 8),
                         (kc_tea, pc_tea, C_TEA, "triangle-up-open", 8.5)]:
    fig.add_trace(go.Scatter(x=k, y=p, mode="lines+markers", xaxis="x3", yaxis="y3",
                             line=dict(color=c, width=1),
                             marker=dict(symbol=sym, size=sz, color=c, line=dict(width=1.1)),
                             showlegend=False))
# (d)
for x0, p, c in [(xd_pur_start, pd_pur, C_PUR), (xd_blu_start, pd_blu, C_BLU),
                 (xd_ora_start, pd_ora, C_ORA), (xd_oli_start, pd_oli, C_OLI),
                 (xd_tea_start, pd_tea, C_TEA)]:
    fig.add_trace(go.Scatter(x=grid(x0, xd_step, len(p)), y=p, mode="lines",
                             xaxis="x4", yaxis="y4",
                             line=dict(color=c, width=1.5), showlegend=False))

# ---------------- axes ----------------
def dom_x(l, r):
    return [l / W, r / W]


def dom_y(t, b):
    return [1 - b / H, 1 - t / H]


def sup10(e):
    return "10<sup>%s</sup>" % str(e).replace("-", "\u2212")


TICKFONT = dict(family=FONT, size=15, color="#2a2a2a")
BASE = dict(showline=True, linecolor="#222", linewidth=1, mirror="allticks",
            ticks="inside", ticklen=5, tickwidth=0.9, tickcolor="#222",
            showgrid=False, zeroline=False, tickfont=TICKFONT)


def minor_log(lo, hi):
    return dict(ticks="inside", ticklen=2.5, tickwidth=0.7, tickcolor="#222", showgrid=False,
                tickvals=[m * 10.0 ** e for e in range(lo, hi + 1) for m in range(2, 10)])


def log_axis(lo, hi, rng, dom, anchor):
    return dict(BASE, type="log", range=rng, domain=dom, anchor=anchor,
                tickvals=[10.0 ** e for e in range(lo, hi + 1)],
                ticktext=[sup10(e) for e in range(lo, hi + 1)],
                minor=minor_log(lo - 1, hi))


def lin_axis(vals, rng, dom, anchor):
    return dict(BASE, type="linear", range=rng, domain=dom, anchor=anchor,
                tickvals=vals, ticktext=[str(v).replace("-", "\u2212") for v in vals])


fig.update_layout(
    width=W, height=H, margin=dict(l=0, r=0, t=0, b=0),
    paper_bgcolor="white", plot_bgcolor="white",
    xaxis=log_axis(0, 3, [-0.35, 3.69], dom_x(62, 317), "y"),
    yaxis=log_axis(-5, 0, [-5.18, 0.27], dom_y(62, 290), "x"),
    xaxis2=lin_axis([-6, -4, -2, 0, 2, 4, 6], [-7.18, 6.96], dom_x(417, 677), "y2"),
    yaxis2=log_axis(-3, 0, [-3.63, 0.103], dom_y(62, 290), "x2"),
    xaxis3=log_axis(0, 2, [-0.232, 2.47], dom_x(62, 318), "y3"),
    yaxis3=log_axis(-5, 0, [-5.18, 0.27], dom_y(382, 610), "x3"),
    xaxis4=lin_axis([-5, 0, 5, 10], [-7.72, 13.42], dom_x(417, 677), "y4"),
    yaxis4=log_axis(-3, 0, [-3.83, 0.152], dom_y(382, 610), "x4"),
)

# ---------------- text ----------------
ann = []


def text(xp, yp, s, size=20, angle=0):
    ann.append(dict(x=xp / W, y=1 - yp / H, xref="paper", yref="paper", text=s,
                    showarrow=False, textangle=angle, xanchor="center", yanchor="middle",
                    font=dict(family=FONT, size=size, color="#111")))


def arrow(hx, hy, tx, ty):
    ann.append(dict(x=hx / W, y=1 - hy / H, xref="paper", yref="paper", text="",
                    showarrow=True, ax=tx - hx, ay=ty - hy, axref="pixel", ayref="pixel",
                    arrowhead=2, arrowsize=1.4, arrowwidth=1, arrowcolor="#000",
                    standoff=0, startstandoff=0))


text(17, 64, "(a)", 18)
text(370, 64, "(b)", 18)
text(17, 385, "(c)", 18)
text(370, 384, "(d)", 18)

text(16, 172, "<i>p</i><sub><i>k</i></sub>", 21, -90)
text(16, 497, "<i>p</i><sub><i>k</i></sub>", 21, -90)
text(191, 322, "<i>k</i>", 21)
text(191, 642, "<i>k</i>", 21)
text(365, 173, "PDF", 20, -90)
text(365, 496, "PDF", 20, -90)
text(547, 325, "<i>Q</i>/<i>IQR</i><sub><i>q</i></sub>", 21)
text(547, 645, "<i>Q</i>/<i>IQR</i><sub><i>q</i></sub>", 21)

arrow(272, 187, 138, 262)
text(282, 186, "<i>t</i>", 21)
arrow(516, 232, 454, 190)
text(524, 233, "<i>t</i>", 21)
arrow(283, 477, 179, 540)
text(293, 476, "<i>t</i>", 21)
arrow(543, 527, 475, 477)
text(551, 528, "<i>t</i>", 21)

text(843, 13, "7", 16)

fig.update_layout(annotations=ann)
fig.write_html("out.html")
